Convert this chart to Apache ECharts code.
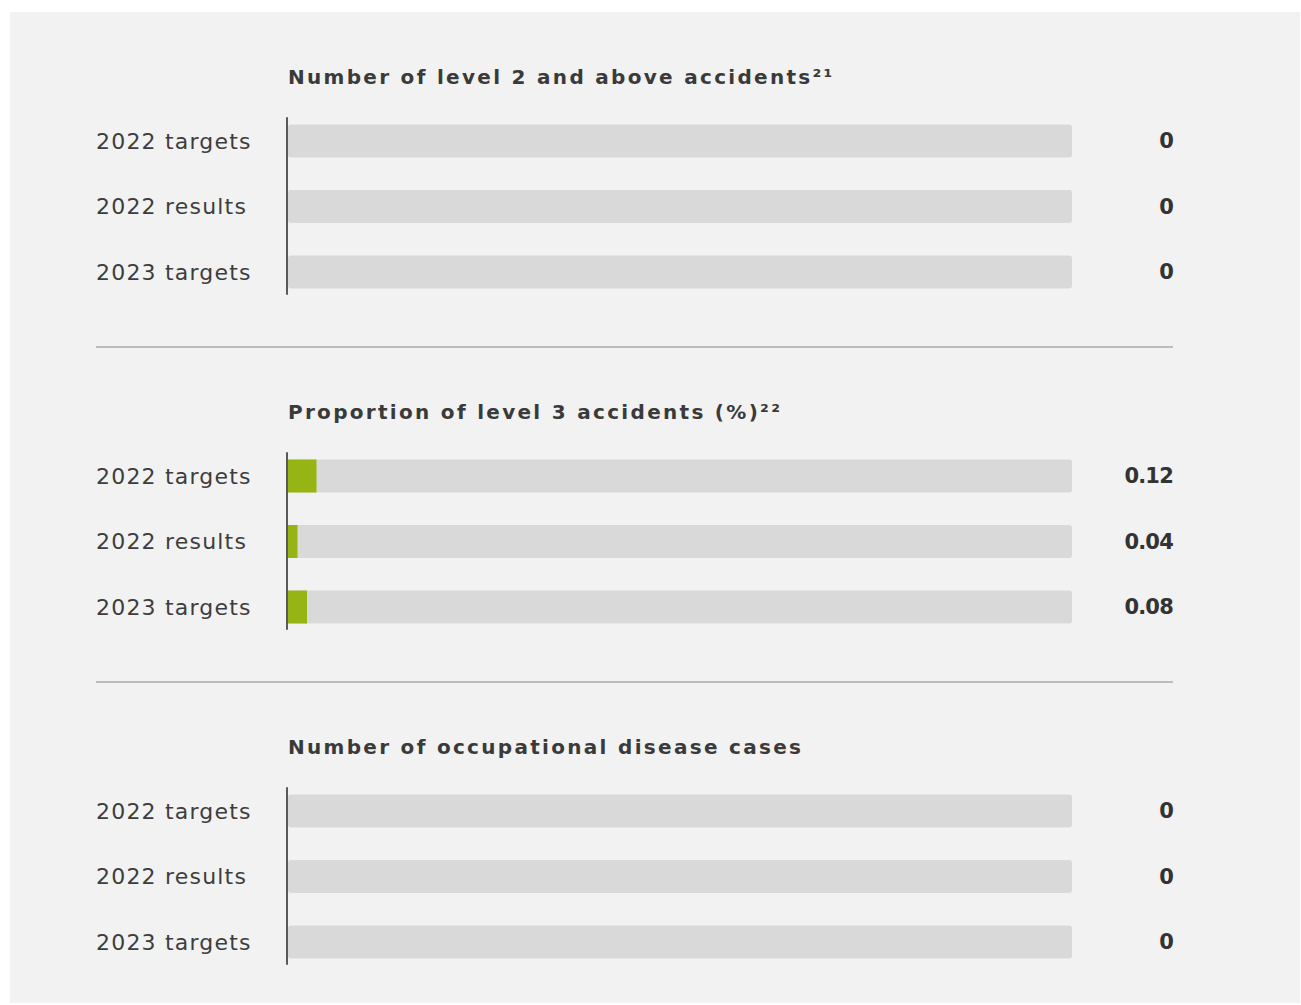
<!DOCTYPE html>
<html>
<head>
<meta charset="utf-8">
<script src="https://cdn.jsdelivr.net/npm/echarts@6/dist/echarts.min.js"></script>
<style>
  html, body { margin: 0; padding: 0; background: #ffffff; }
  #c { position: absolute; left: 10px; top: 12px; width: 1290px; height: 991px; background: #f2f2f2; }
</style>
</head>
<body>
<div id="c"></div>
<script>
// ---- data ----
const categories = ['2022 targets', '2022 results', '2023 targets'];
const titles = ['Number of level 2 and above accidents\u00B2\u00B9', 'Proportion of level 3 accidents (%)\u00B2\u00B2', 'Number of occupational disease cases'];
const level2Accidents = [0, 0, 0];
const level3Proportion = [0.12, 0.04, 0.08];
const occupationalCases = [0, 0, 0];
const sectionValues = [level2Accidents, level3Proportion, occupationalCases];
const sectionMax = [1, 3.3, 1];

// ---- layout / style ----
const FONT = 'DejaVu Sans';
const STEP = 335;
const grids = [], xAxes = [], yAxes = [], series = [], titleOpts = [];
sectionValues.forEach((vals, i) => {
  const gBar = grids.length;
  grids.push({ left: 278, width: 784, top: 96.25 + STEP * i, height: 196.5 });
  const gLine = grids.length;
  grids.push({ left: 277, width: 1, top: 106 + STEP * i, height: 176 });

  const xBar = xAxes.length;
  xAxes.push({ type: 'value', gridIndex: gBar, min: 0, max: sectionMax[i], show: false });
  const xLine = xAxes.length;
  xAxes.push({ type: 'value', gridIndex: gLine, min: 0, max: 1, show: false });

  const yLeft = yAxes.length;
  yAxes.push({
    type: 'category', gridIndex: gBar, data: categories, inverse: true,
    axisLine: { show: false }, axisTick: { show: false }, splitLine: { show: false },
    axisLabel: { margin: 192, align: 'left', fontSize: 22, color: '#3d3d3d', fontFamily: FONT }
  });
  yAxes.push({
    type: 'category', gridIndex: gBar, position: 'right', inverse: true,
    data: vals.map(v => String(v)),
    axisLine: { show: false }, axisTick: { show: false }, splitLine: { show: false },
    axisLabel: { margin: 101, align: 'right', fontSize: 21, fontWeight: 'bold', color: '#333333', fontFamily: FONT }
  });
  yAxes.push({
    type: 'value', gridIndex: gLine, min: 0, max: 1,
    axisLine: { show: true, lineStyle: { color: '#5a5a5a', width: 2 } },
    axisTick: { show: false }, axisLabel: { show: false }, splitLine: { show: false }
  });

  series.push({
    type: 'bar', xAxisIndex: xBar, yAxisIndex: yLeft, data: vals,
    barWidth: 33, silent: true,
    showBackground: true,
    backgroundStyle: { color: '#d9d9d9', borderRadius: 3 },
    itemStyle: { color: '#97b415' }
  });

  titleOpts.push({
    text: titles[i], left: 278, top: 55 + STEP * i, padding: 0,
    textStyle: { fontSize: 20, fontWeight: 'bold', color: '#3a3a3a', fontFamily: FONT }
  });
});

const sepLines = [1, 2].map(k => ({
  type: 'line', silent: true,
  shape: { x1: 86, y1: STEP * k, x2: 1163, y2: STEP * k },
  style: { stroke: '#aaaaaa', lineWidth: 1.5 }
}));

const chart = echarts.init(document.getElementById('c'), null, { renderer: 'svg' });
chart.setOption({
  animation: false,
  backgroundColor: '#f2f2f2',
  title: titleOpts,
  grid: grids,
  xAxis: xAxes,
  yAxis: yAxes,
  series: series,
  graphic: sepLines
});

function applySpacing() {
  document.querySelectorAll('#c svg text').forEach(t => {
    const cs = getComputedStyle(t);
    const fs = parseFloat(cs.fontSize);
    if (fs === 20) t.style.letterSpacing = '2.3px';
    else if (fs === 22) t.style.letterSpacing = '1.2px';
    else if (fs === 21) t.style.letterSpacing = '-0.8px';
  });
}
chart.on('finished', applySpacing);
setTimeout(applySpacing, 50);
</script>
</body>
</html>
